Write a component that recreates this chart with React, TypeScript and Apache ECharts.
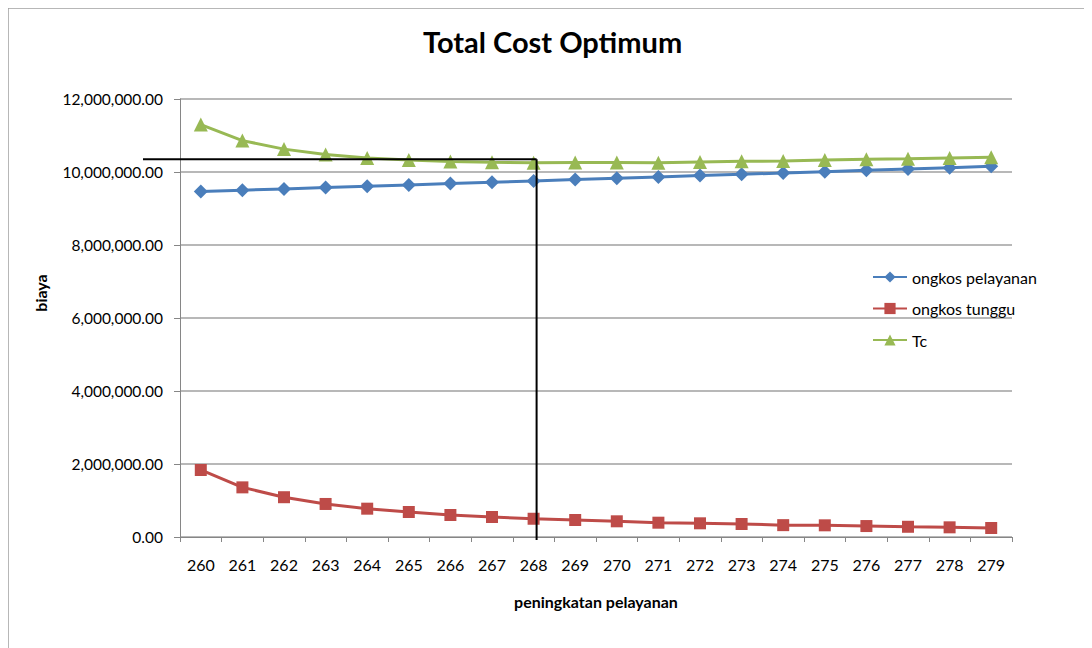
import React, { useEffect, useRef } from "react";
import * as echarts from "echarts";

const categories = ["260","261","262","263","264","265","266","267","268","269","270","271","272","273","274","275","276","277","278","279"];
const ongkosPelayanan = [9464000, 9500400, 9536800, 9573200, 9609600, 9646000, 9682400, 9718800, 9755200, 9791600, 9828000, 9864400, 9900800, 9937200, 9973600, 10010000, 10046400, 10082800, 10119200, 10155600];
const ongkosTunggu = [1836000, 1360000, 1090000, 905000, 776000, 685000, 603000, 548000, 500000, 466000, 430000, 392000, 375000, 356000, 325000, 320000, 300000, 280000, 265000, 247000];
const tc = [11300000, 10860400, 10626800, 10478200, 10385600, 10331000, 10285400, 10266800, 10255200, 10257600, 10258000, 10256400, 10275800, 10293200, 10298600, 10330000, 10346400, 10362800, 10384200, 10402600];
const optimumCategory = "268";
const optimumValue = 10350000;

const FONT = "Lato, 'Open Sans', sans-serif";

export default function App() {
  const ref = useRef<HTMLDivElement>(null);
  useEffect(() => {
    if (!ref.current) return;
    const chart = echarts.init(ref.current, null, { renderer: "svg" });
    chart.setOption({
      animation: false,
      textStyle: { fontFamily: FONT },
      title: {
        text: "Total Cost Optimum",
        left: 410,
        top: 14,
        textStyle: { fontFamily: FONT, fontSize: 29, fontWeight: "bold", color: "#000" },
      },
      legend: {
        orient: "vertical",
        left: 859,
        top: 256,
        itemWidth: 34,
        itemHeight: 14,
        itemGap: 15.5,
        textStyle: { fontFamily: FONT, fontSize: 16, color: "#000" },
        data: ["ongkos pelayanan", "ongkos tunggu", "Tc"],
      },
      grid: { left: 172, right: 80, top: 91, bottom: 111, containLabel: false },
      xAxis: {
        type: "category",
        data: categories,
        boundaryGap: true,
        name: "peningkatan pelayanan",
        nameLocation: "middle",
        nameGap: 56,
        nameTextStyle: { fontFamily: FONT, fontSize: 16, fontWeight: "bold", color: "#000" },
        axisLine: { lineStyle: { color: "#868686", width: 1 } },
        axisTick: { show: true, alignWithLabel: false, length: 5, lineStyle: { color: "#868686" } },
        axisLabel: { fontFamily: FONT, fontSize: 16, color: "#000", margin: 19 },
        splitLine: { show: false },
      },
      yAxis: {
        type: "value",
        min: 0,
        max: 12000000,
        interval: 2000000,
        axisLine: { show: true, lineStyle: { color: "#868686", width: 1 } },
        axisTick: { show: true, length: 6, lineStyle: { color: "#868686" } },
        axisLabel: {
          fontFamily: FONT,
          fontSize: 15.5,
          color: "#000",
          margin: 17,
          formatter: (v: number) => v.toLocaleString("en-US", { minimumFractionDigits: 2, maximumFractionDigits: 2 }),
        },
        splitLine: { show: true, lineStyle: { color: "#a0a0a0", width: 1.5 } },
      },
      series: [
        {
          name: "ongkos pelayanan",
          type: "line",
          data: ongkosPelayanan,
          symbol: "diamond",
          symbolSize: 14,
          color: "#4a7ebb",
          lineStyle: { width: 3, color: "#4a7ebb" },
          itemStyle: { color: "#4a7ebb" },
        },
        {
          name: "ongkos tunggu",
          type: "line",
          data: ongkosTunggu,
          symbol: "rect",
          symbolSize: 12,
          color: "#be4b48",
          lineStyle: { width: 3, color: "#be4b48" },
          itemStyle: { color: "#be4b48" },
        },
        {
          name: "Tc",
          type: "line",
          data: tc,
          symbol: "triangle",
          symbolSize: 14,
          color: "#98b954",
          lineStyle: { width: 3, color: "#98b954" },
          itemStyle: { color: "#98b954" },
        },
      ],
    });

    const xOpt = chart.convertToPixel({ gridIndex: 0 }, [optimumCategory, optimumValue]) as number[];
    const origin = chart.convertToPixel({ gridIndex: 0 }, [categories[0], 0]) as number[];
    const gridLeft = 172;
    const lineX = xOpt[0] + 3;
    chart.setOption({
      graphic: [
        {
          type: "rect",
          shape: { x: 0, y: 0, width: 1200, height: 800 },
          style: { fill: "none", stroke: "#a0a0a0", lineWidth: 1.5 },
          silent: true,
          z: -10,
        },
        {
          type: "line",
          shape: { x1: gridLeft - 37, y1: xOpt[1], x2: lineX, y2: xOpt[1] },
          style: { stroke: "#000", lineWidth: 2 },
          z: 100,
        },
        {
          type: "line",
          shape: { x1: lineX, y1: xOpt[1], x2: lineX, y2: origin[1] + 3 },
          style: { stroke: "#000", lineWidth: 2 },
          z: 100,
        },
        {
          type: "text",
          x: 32,
          y: 285,
          rotation: Math.PI / 2,
          style: {
            text: "biaya",
            fontFamily: FONT,
            fontSize: 16,
            fontWeight: "bold",
            fill: "#000",
            align: "center",
            verticalAlign: "middle",
          },
        },
      ],
    });
    return () => chart.dispose();
  }, []);

  return <div ref={ref} style={{ width: 1084, height: 640 }} />;
}
